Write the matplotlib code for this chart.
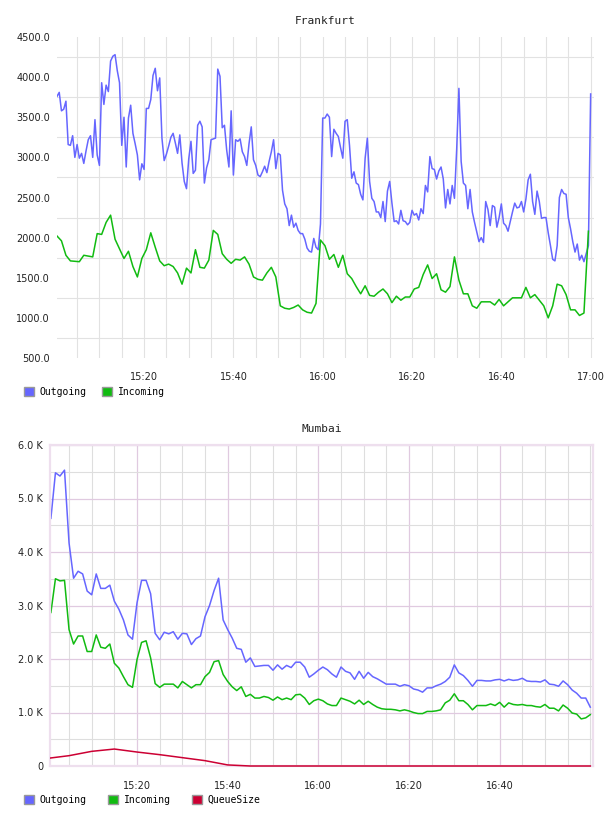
import matplotlib
matplotlib.use("Agg")
import matplotlib.pyplot as plt
import numpy as np
from matplotlib.patches import Patch, Rectangle
from matplotlib.ticker import FuncFormatter, MultipleLocator, FixedLocator

# Frankfurt: outgoing sampled every 30 s, incoming every minute, from 15:00:30
fra_out = [
    3760, 3810, 3580, 3600, 3700, 3160, 3150, 3270, 3000, 3160,
    2990, 3050, 2925, 3080, 3220, 3270, 3000, 3470, 3030, 2900,
    3930, 3660, 3900, 3820, 4200, 4260, 4280, 4080, 3930, 3150,
    3500, 2880, 3490, 3650, 3300, 3170, 3030, 2720, 2920, 2850,
    3610, 3610, 3720, 4020, 4110, 3830, 3990, 3240, 2960, 3040,
    3140, 3250, 3300, 3180, 3050, 3280, 2930, 2700, 2610, 2980,
    3200,
    2800, 2840, 3400, 3450, 3380, 2680, 2870, 2970, 3220, 3230,
    3240, 4100, 4010, 3370, 3400, 3090, 2880, 3580, 2780, 3220,
    3200, 3230, 3070, 3010, 2900, 3170, 3380, 2970, 2900, 2780,
    2760, 2820, 2890, 2810, 2950, 3070, 3220, 2860, 3050, 3030,
    2590, 2420, 2360, 2150, 2280, 2130, 2180, 2090, 2050, 2050,
    1980, 1870, 1830, 1820, 1990, 1880, 1850, 2170, 3490, 3490,
    3540, 3500, 3010, 3350, 3300, 3260, 3120, 2990, 3450, 3470,
    3150, 2740, 2820, 2680, 2660, 2540, 2470, 2990, 3240, 2700,
    2490, 2450, 2320, 2320, 2250, 2450, 2200, 2580, 2700, 2430,
    2200, 2210, 2170, 2340, 2210, 2200, 2160, 2190, 2340, 2280,
    2300, 2220, 2360, 2300, 2650, 2570, 3010, 2860, 2850, 2730,
    2830, 2880, 2730, 2370, 2600, 2420, 2650, 2490, 3100, 3860,
    2950,
    2680, 2650, 2360, 2600, 2320, 2190, 2070, 1950, 2000, 1940,
    2450, 2350, 2150, 2400, 2380, 2130, 2250, 2420, 2180, 2150,
    2080, 2200, 2320, 2430, 2370, 2380, 2450, 2320, 2480, 2720,
    2790, 2450, 2290, 2580, 2450, 2240, 2250, 2250, 2060, 1900,
    1730, 1710, 1900, 2500, 2600, 2550, 2540, 2250, 2110, 1950,
    1820, 1920, 1720, 1780, 1700, 1800, 1900, 3790,
]
fra_in = [
    2020, 1960, 1780, 1710, 1705, 1700, 1780, 1770, 1760, 2050,
    2040, 2190, 2280, 1980, 1860, 1740, 1830, 1640, 1510, 1740,
    1850, 2060, 1880, 1710, 1650, 1670, 1640, 1560, 1420, 1620,
    1560, 1850, 1630, 1620, 1720, 2090, 2040, 1800, 1730, 1680,
    1730, 1720, 1760, 1670, 1510, 1480, 1470, 1560, 1630, 1510,
    1150, 1120, 1110, 1130, 1160, 1100, 1070, 1060, 1180,
    1970, 1900, 1730, 1790, 1630, 1780, 1550, 1490, 1390, 1300,
    1400, 1280, 1270, 1320, 1360, 1300, 1190, 1270, 1220, 1260,
    1260, 1360, 1380, 1540, 1660, 1490, 1550, 1350, 1320, 1390,
    1760, 1470, 1300, 1300, 1150, 1120, 1200, 1200, 1200, 1160,
    1230, 1150, 1200, 1250, 1250, 1250, 1380, 1250, 1290, 1220,
    1150, 1000, 1150, 1420, 1400, 1290, 1100, 1100, 1030, 1060,
    2080,
]

# Mumbai: one sample per minute from 15:01 (thousands)
mum_out = [
    4.63, 5.48, 5.42, 5.53, 4.17, 3.51, 3.64, 3.59, 3.27, 3.20,
    3.59, 3.32, 3.32, 3.38, 3.08, 2.93, 2.73, 2.45, 2.37, 3.05,
    3.47, 3.47, 3.22, 2.48, 2.36, 2.50, 2.47, 2.51, 2.37, 2.48,
    2.47, 2.27, 2.38, 2.43, 2.79, 3.00, 3.28, 3.51, 2.73, 2.55,
    2.39, 2.20, 2.18, 1.94, 2.02, 1.86, 1.87, 1.88, 1.88, 1.79,
    1.89, 1.81, 1.88, 1.84, 1.94, 1.94, 1.85,
    1.66, 1.72, 1.79, 1.85, 1.80, 1.72, 1.66, 1.85, 1.77, 1.74,
    1.62, 1.77, 1.64, 1.75, 1.67, 1.63, 1.58, 1.53, 1.53, 1.53,
    1.49, 1.52, 1.50, 1.44, 1.42, 1.38, 1.46, 1.46, 1.50, 1.53,
    1.58, 1.66, 1.89, 1.74, 1.69, 1.60, 1.49, 1.60, 1.60, 1.59,
    1.59, 1.61, 1.62, 1.59, 1.62, 1.60, 1.61, 1.64, 1.59, 1.58,
    1.58, 1.57, 1.61, 1.53, 1.52, 1.49, 1.59, 1.52, 1.42, 1.36,
    1.27, 1.27, 1.10,
]
mum_in = [
    2.87, 3.50, 3.46, 3.47, 2.55, 2.28, 2.43, 2.43, 2.14, 2.14,
    2.45, 2.22, 2.20, 2.28, 1.92, 1.83, 1.67, 1.52, 1.47, 1.99,
    2.31, 2.34, 2.02, 1.54, 1.47, 1.53, 1.53, 1.53, 1.46, 1.58,
    1.52, 1.46, 1.52, 1.52, 1.67, 1.75, 1.95, 1.97, 1.71, 1.58,
    1.48, 1.41, 1.48, 1.30, 1.34, 1.27, 1.27, 1.30, 1.28, 1.23,
    1.29, 1.24, 1.27, 1.24, 1.33, 1.34, 1.27,
    1.15, 1.22, 1.25, 1.22, 1.16, 1.13, 1.13, 1.27, 1.24, 1.21,
    1.16, 1.23, 1.15, 1.21, 1.15, 1.10, 1.07, 1.06, 1.06, 1.05,
    1.03, 1.05, 1.03, 1.00, 0.98, 0.98, 1.02, 1.02, 1.03, 1.05,
    1.18, 1.23, 1.35, 1.22, 1.22, 1.15, 1.05, 1.13, 1.13, 1.13,
    1.16, 1.13, 1.19, 1.10, 1.18, 1.15, 1.14, 1.15, 1.13, 1.13,
    1.11, 1.10, 1.15, 1.08, 1.08, 1.03, 1.14, 1.08, 0.99, 0.97,
    0.88, 0.90, 0.96,
]
# queue size every 5 minutes from 15:00
mum_queue = [140, 193, 274, 317, 261, 212, 156, 100, 20, 0, 0, 0, 0,
             0, 0, 0, 0, 0, 0, 0, 0, 0, 0, 0, 0]

C_OUT = "#6666ff"
C_IN = "#11bb11"
C_Q = "#cc0033"

# minutes after 15:00
fra_out_t = 0.5 + 0.5 * np.arange(len(fra_out))
fra_in_t = 0.5 + np.arange(len(fra_in))
mum_t = 1.0 + np.arange(len(mum_out))
mum_q_t = 5.0 * np.arange(len(mum_queue))

hhmm = FuncFormatter(lambda v, p: "%d:%02d" % (15 + int(round(v)) // 60, int(round(v)) % 60))

fig = plt.figure(figsize=(6.08, 8.16), dpi=100)
mono = "DejaVu Sans Mono"
txt = "#222222"

# ---- Frankfurt
ax1 = fig.add_axes([57 / 608, 1 - 358 / 816, 537 / 608, 321 / 816])
ax1.plot(fra_out_t, fra_out, color=C_OUT, lw=1.1)
ax1.plot(fra_in_t, fra_in, color=C_IN, lw=1.1)
ax1.set_xlim(0.5, 120.75)
ax1.set_ylim(500, 4500)
ax1.xaxis.set_major_locator(FixedLocator([20, 40, 60, 80, 100, 120]))
ax1.xaxis.set_minor_locator(MultipleLocator(5))
ax1.xaxis.set_major_formatter(hhmm)
ax1.yaxis.set_major_locator(MultipleLocator(500))
ax1.yaxis.set_minor_locator(FixedLocator(np.arange(750, 4500, 500)))
ax1.yaxis.set_major_formatter(FuncFormatter(lambda v, p: "%.1f" % v))
ax1.grid(True, which="both", axis="x", color="#e2e2e2", lw=0.8)
ax1.grid(True, which="minor", axis="y", color="#e2e2e2", lw=0.8)
ax1.set_axisbelow(True)
for s in ax1.spines.values():
    s.set_visible(False)
ax1.tick_params(which="both", length=0, labelsize=7, colors=txt)
ax1.tick_params(axis="y", pad=5)
ax1.tick_params(axis="x", pad=10)
ax1.set_title("Frankfurt", fontsize=8, family=mono, color=txt, pad=9)
fig.legend(handles=[Patch(facecolor=C_OUT, edgecolor="#999999", label="Outgoing"),
                    Patch(facecolor=C_IN, edgecolor="#999999", label="Incoming")],
           loc="center left", bbox_to_anchor=(24 / 608, 1 - 392 / 816), ncol=2,
           frameon=False, borderpad=0, borderaxespad=0, handlelength=1.05,
           handleheight=1.05, handletextpad=0.55, columnspacing=1.6,
           prop={"family": mono, "size": 7})

# ---- Mumbai
ax2 = fig.add_axes([50 / 608, 1 - 766 / 816, 543 / 608, 321 / 816])
ax2.plot(mum_t, np.array(mum_out) * 1000, color=C_OUT, lw=1.1)
ax2.plot(mum_t, np.array(mum_in) * 1000, color=C_IN, lw=1.1)
qline, = ax2.plot(mum_q_t, mum_queue, color=C_Q, lw=1.1, zorder=3)
# let the queue line sit fully on the zero baseline, but not past the sides
qline.set_clip_path(Rectangle((0, -0.02), 1, 1.04, transform=ax2.transAxes))
ax2.set_xlim(0.8, 120.6)
ax2.set_ylim(0, 6000)
ax2.xaxis.set_major_locator(FixedLocator([20, 40, 60, 80, 100]))
ax2.xaxis.set_minor_locator(MultipleLocator(5))
ax2.xaxis.set_major_formatter(hhmm)
ax2.yaxis.set_major_locator(MultipleLocator(1000))
ax2.yaxis.set_minor_locator(MultipleLocator(500))
ax2.yaxis.set_major_formatter(FuncFormatter(lambda v, p: "0" if v == 0 else "%.1f K" % (v / 1000)))
ax2.grid(True, which="minor", color="#dedede", lw=0.8)
ax2.grid(True, which="major", color="#e0cae0", lw=0.9)
ax2.set_axisbelow(True)
for s in ax2.spines.values():
    s.set_color("#eedfee")
    s.set_linewidth(1.6)
ax2.tick_params(which="both", length=0, labelsize=7, colors=txt)
ax2.tick_params(axis="y", pad=5)
ax2.tick_params(axis="x", pad=11)
ax2.set_title("Mumbai", fontsize=8, family=mono, color=txt, pad=9)
fig.legend(handles=[Patch(facecolor=C_OUT, edgecolor="#999999", label="Outgoing"),
                    Patch(facecolor=C_IN, edgecolor="#999999", label="Incoming"),
                    Patch(facecolor=C_Q, edgecolor="#999999", label="QueueSize")],
           loc="center left", bbox_to_anchor=(24 / 608, 1 - 800 / 816), ncol=3,
           frameon=False, borderpad=0, borderaxespad=0, handlelength=1.05,
           handleheight=1.05, handletextpad=0.55, columnspacing=2.2,
           prop={"family": mono, "size": 7})

fig.savefig("out.png", dpi=100, facecolor="white")
